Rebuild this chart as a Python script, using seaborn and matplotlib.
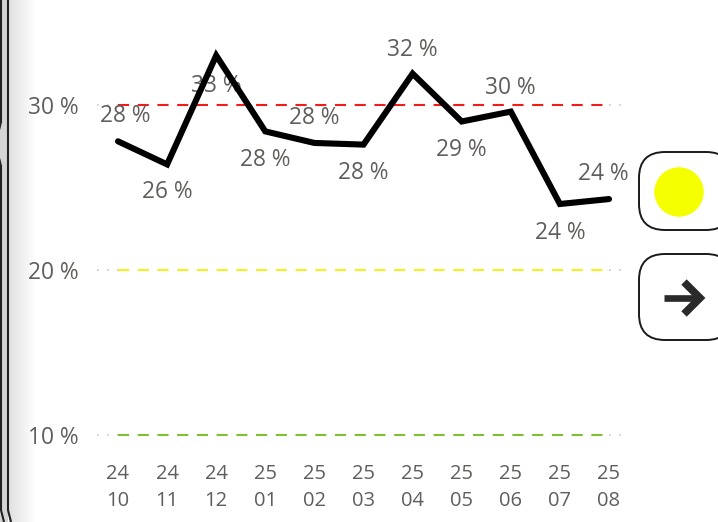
import numpy as np
import pandas as pd
import seaborn as sns
import matplotlib.pyplot as plt
from matplotlib.lines import Line2D
from matplotlib.patches import Circle, FancyBboxPatch, Rectangle

W, H = 718, 522

months = ["24\n10", "24\n11", "24\n12", "25\n01", "25\n02", "25\n03",
          "25\n04", "25\n05", "25\n06", "25\n07", "25\n08"]
rate = [27.8, 26.4, 33.0, 28.4, 27.7, 27.6, 31.9, 29.0, 29.6, 24.0, 24.3]
thresholds = [30, 20, 10]
threshold_colors = ["#f01c1c", "#f5f01e", "#7fc031"]
y_ticks = [10, 20, 30]
# where each data label sits around its point, in pixels
label_dx = [7, 0, 0, 0, 0, 0, 0, 0, 0, 0, -6]
label_dy = [25, -28, -30, -29, 25, -28, 24, -28, 24, -29, 25]

GREY = "#605e5c"

sns.set_theme(style="white")
plt.rcParams["font.family"] = ["Open Sans", "DejaVu Sans"]

fig = plt.figure(figsize=(W / 100, H / 100), dpi=100)
fig.patch.set_facecolor("white")


def px_rect(x0, y0, x1, y1):
    return [x0 / W, 1 - y1 / H, (x1 - x0) / W, (y1 - y0) / H]


# y axis: 30 % at pixel 105, 10 % at pixel 435
ax = fig.add_axes(px_rect(97, 20, 622, 450), zorder=2)
ax.set_facecolor("none")
df = pd.DataFrame({"month": months, "rate": rate})

px_per_unit = (435 - 105) / 20
ax.set_ylim(30 - (450 - 105) / px_per_unit, 30 + (105 - 20) / px_per_unit)

step = (609 - 118) / (len(months) - 1)
x_left = -(118 - 97) / step
x_right = (622 - 118) / step

for value, col in zip(thresholds, threshold_colors):
    # faint gridline only shows past the ends of the coloured target line
    ax.plot([x_left, 0], [value, value], color="#c8c8c8", lw=1.2, ls=(0, (1, 5)), zorder=1)
    ax.plot([len(months) - 1, x_right], [value, value], color="#c8c8c8", lw=1.2,
            ls=(0, (1, 5)), zorder=1)
    ax.plot([0, len(months) - 1], [value, value], color=col, lw=1.5,
            ls=(0, (8 / 1.5, 6.2 / 1.5)), zorder=2, dash_capstyle="butt")

sns.lineplot(data=df, x="month", y="rate", color="black", lw=4.4, ax=ax,
             sort=False, errorbar=None, zorder=3, clip_on=False)
ax.lines[-1].set_solid_capstyle("round")
ax.lines[-1].set_solid_joinstyle("miter")

ax.set_xlim(x_left, x_right)

for i, value in enumerate(rate):
    ax.annotate(f"{value:.0f} %", (i, value), xytext=(label_dx[i] * 0.72, label_dy[i] * 0.72),
                textcoords="offset points", ha="center", va="center",
                fontsize=16.4, color=GREY, zorder=2.5)

ax.set_yticks(y_ticks)
ax.set_yticklabels([f"{t} %" for t in y_ticks], fontsize=16.4, color=GREY)
ax.set_xticks(range(len(months)))
ax.set_xticklabels(months, fontsize=14.5, color=GREY, linespacing=1.46)
ax.tick_params(axis="x", length=0, pad=10)
ax.tick_params(axis="y", length=0, pad=13.5)
ax.set_xlabel("")
ax.set_ylabel("")
sns.despine(ax=ax, left=True, bottom=True)

# overlay in pixel coordinates for the surrounding report furniture
deco = fig.add_axes([0, 0, 1, 1], zorder=1)
deco.axis("off")

# soft shadow on the left edge
shade = np.linspace(0.88, 1, 28).reshape(1, -1)
deco.imshow(shade, extent=(9, 37, H, 0), cmap="gray", vmin=0, vmax=1, aspect="auto", zorder=0)
deco.add_patch(Rectangle((0, 0), 8, H, facecolor="#d4d4d4", edgecolor="none", zorder=1))
deco.add_line(Line2D([8, 8, 11], [0, 510, H], color="#222222", lw=1.5, zorder=2))
deco.add_line(Line2D([1, 1, -1], [0, 122, 130], color="#222222", lw=1.5, zorder=2))
deco.add_line(Line2D([-1, 1, 1, 4], [158, 166, 510, H], color="#222222", lw=1.5, zorder=2))
deco.set_xlim(0, W)
deco.set_ylim(H, 0)

# status buttons running off the right edge
for y0, y1 in [(152, 230), (254, 340)]:
    deco.add_patch(FancyBboxPatch((639 + 20, y0 + 20), 732 - 639 - 40, y1 - y0 - 40,
                                  boxstyle="round,pad=20,rounding_size=26",
                                  facecolor="white", edgecolor="#1a1a1a", lw=1.4))
deco.add_patch(Circle((679, 192), 24.7, facecolor="#f5ff00", edgecolor="none"))
deco.add_line(Line2D([664, 699], [298, 298], color="#2a2a2a", lw=4.8, solid_capstyle="butt"))
deco.add_line(Line2D([684, 700, 684], [282, 298, 314], color="#2a2a2a", lw=5.5,
                     solid_joinstyle="miter", solid_capstyle="butt"))

fig.savefig("out.png", dpi=100)
